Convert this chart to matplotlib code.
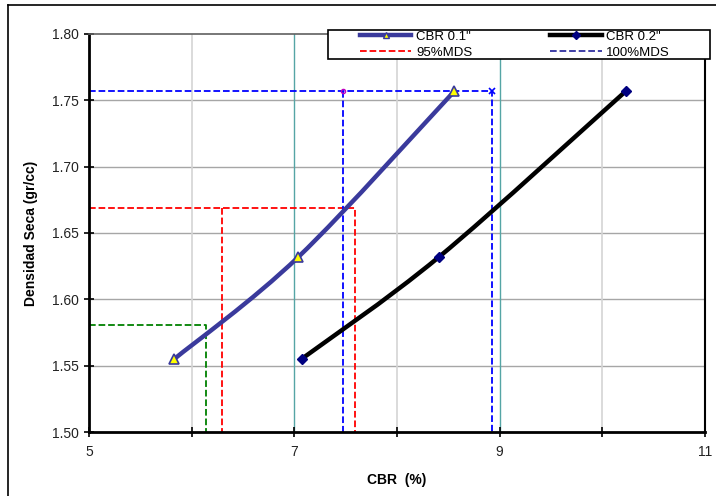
import numpy as np
import matplotlib
matplotlib.use("Agg")
from matplotlib import pyplot as plt
from matplotlib.path import Path
from matplotlib.patches import PathPatch, Rectangle
from matplotlib.lines import Line2D

plt.rcParams['font.family'] = ['Liberation Sans', 'DejaVu Sans']

# curvas CBR vs densidad seca
cbr_01 = [5.83, 7.04, 8.56]
dens_01 = [1.555, 1.632, 1.757]
cbr_02 = [7.07, 8.41, 10.23]
dens_02 = [1.555, 1.632, 1.757]

mds = 1.757
dens_90 = 1.581
dens_95 = 1.669
# cortes de las curvas con cada nivel de densidad
cbr_90 = 6.14
cbr_95 = [6.30, 7.59]
cbr_100 = [7.47, 8.93]


def smooth_path(xs, ys):
    # catmull-rom -> bezier cubica, como la linea suavizada de excel
    pts = np.column_stack([xs, ys])
    n = len(pts)
    verts = [pts[0]]
    codes = [Path.MOVETO]
    for i in range(n - 1):
        p0 = pts[max(i - 1, 0)]
        p1 = pts[i]
        p2 = pts[i + 1]
        p3 = pts[min(i + 2, n - 1)]
        c1 = p1 + (p2 - p0) / 6
        c2 = p2 - (p3 - p1) / 6
        verts += [c1, c2, p2]
        codes += [Path.CURVE4] * 3
    return Path(verts, codes)


W, H = 716, 496
fig = plt.figure(figsize=(W / 100, H / 100), dpi=100)
ax = fig.add_axes([0.1243, 0.129, 0.8603, 0.8025])
ax.set_xlim(5, 11)
ax.set_ylim(1.50, 1.80)

# rejilla
for yv in np.arange(1.55, 1.80, 0.05):
    ax.axhline(yv, color='#a6a6a6', lw=1.0, zorder=0)
for xv in [6, 8, 10]:
    ax.axvline(xv, color='#d4d4d4', lw=1.2, zorder=0)
for xv in [7, 9]:
    ax.axvline(xv, color='#55a5a5', lw=1.0, zorder=0)

# lineas de lectura
ax.plot([5, cbr_90, cbr_90], [dens_90, dens_90, 1.50], '--', color='#008000', lw=1.3, zorder=2)
ax.plot([5, 5], [1.50, dens_90], '--', color='#008000', lw=1.3, zorder=2)
ax.plot([5, cbr_95[1], cbr_95[1]], [dens_95, dens_95, 1.50], '--', color='#ff0000', lw=1.3, zorder=2)
ax.plot([cbr_95[0], cbr_95[0]], [dens_95, 1.50], '--', color='#ff0000', lw=1.3, zorder=2)
ax.plot([5, cbr_100[1], cbr_100[1]], [mds, mds, 1.50], '--', color='#0000ff', lw=1.3, zorder=2)
ax.plot([cbr_100[0], cbr_100[0]], [mds, 1.50], '--', color='#0000ff', lw=1.3, zorder=2)
ax.plot([cbr_100[0]], [mds], 'o', ms=3, mfc='none', mec='#c000c0', zorder=3)
ax.plot([cbr_100[1]], [mds], 'x', ms=4, mew=1.2, color='#0000ff', zorder=3)

# curvas suavizadas
ax.add_patch(PathPatch(smooth_path(cbr_01, dens_01), fc='none', ec='#3a3a9c', lw=3.2, zorder=4, capstyle='round'))
ax.add_patch(PathPatch(smooth_path(cbr_02, dens_02), fc='none', ec='black', lw=3.2, zorder=4, capstyle='round'))
ax.plot(cbr_01, dens_01, '^', ms=7, mfc='#ffff00', mec='#3a3a9c', mew=1.2, zorder=5, clip_on=False)
ax.plot(cbr_02, dens_02, 'D', ms=5, mfc='#000080', mec='#000080', zorder=5, clip_on=False)

# ejes
ax.set_xticks([5, 7, 9, 11])
ax.set_xticks([6, 8, 10], minor=True)
ax.set_yticks(np.arange(1.50, 1.801, 0.05))
ax.yaxis.set_major_formatter(matplotlib.ticker.FormatStrFormatter('%.2f'))
ax.tick_params(axis='both', which='both', direction='inout', length=7, width=1.2,
               labelsize=10, colors='black', labelcolor='#222222', pad=4)
ax.tick_params(axis='x', pad=6)
for s in ['left', 'bottom']:
    ax.spines[s].set_linewidth(2)
ax.spines['right'].set_linewidth(1.5)
ax.spines['top'].set_color('#606060')
ax.spines['top'].set_linewidth(1.2)

ax.set_xlabel('CBR  (%)', fontsize=10, fontweight='bold', labelpad=10)
ax.set_ylabel('Densidad Seca (gr/cc)', fontsize=10, fontweight='bold', labelpad=10)

# leyenda: marco aparte, entradas centradas dentro
fig.add_artist(Rectangle((328 / W, 1 - 59 / H), 382 / W, 29 / H, transform=fig.transFigure,
                         fc='white', ec='black', lw=1.2, zorder=9))
handles = [
    Line2D([], [], color='#3a3a9c', lw=3.2, marker='^', ms=5, mfc='#ffff00', mec='#3a3a9c'),
    Line2D([], [], color='#ff0000', lw=1.3, ls='--'),
    Line2D([], [], color='black', lw=3.2, marker='D', ms=4, mfc='#000080', mec='#000080'),
    Line2D([], [], color='#3030a0', lw=1.3, ls='--'),
]
labels = ['CBR 0.1"', '95%MDS', 'CBR 0.2"', '100%MDS']
leg = fig.legend(handles, labels, ncol=2, loc='center left', mode='expand',
                 bbox_to_anchor=(360 / W, 1 - 59 / H, 310 / W, 29 / H), fontsize=9.5,
                 frameon=False, handlelength=3.9, handletextpad=0.35, borderpad=0.0,
                 labelspacing=0.3, columnspacing=1.0, borderaxespad=0)
leg.set_zorder(10)

# marco exterior
fig.add_artist(Line2D([8 / W, 8 / W], [0, 1 - 5 / H], color='black', lw=1.2))
fig.add_artist(Line2D([8 / W, 1], [1 - 5 / H, 1 - 5 / H], color='black', lw=1.2))

fig.savefig('out.png', dpi=100)
